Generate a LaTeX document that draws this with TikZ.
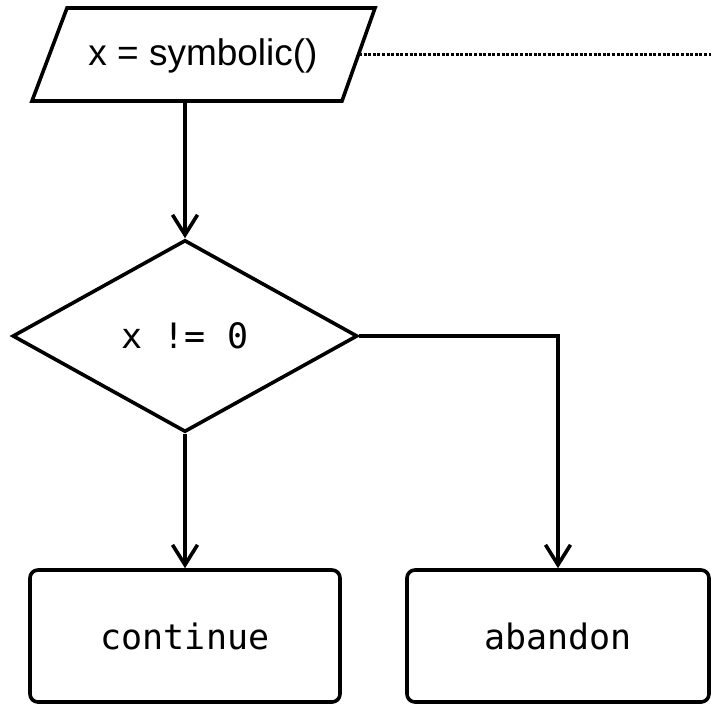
\documentclass[tikz,border=0pt]{standalone}
\usepackage{fontspec}
\setmainfont{Liberation Sans}
\setmonofont{DejaVu Sans Mono}
\usetikzlibrary{shapes.geometric,arrows.meta}

\tikzset{
  outline/.style={draw=black, line width=3.6pt, line join=miter},
  decision/.style={outline, shape=diamond, minimum width=345pt, minimum height=192pt, inner sep=0pt},
  endbox/.style={outline, rectangle, rounded corners=8pt, inner sep=0pt},
  flow/.style={black, line width=3.6pt, -{Straight Barb[length=20pt,width=25pt]}},
  link/.style={black, line width=3pt, dash pattern=on 3pt off 1.6pt},
  label/.style={font=\fontsize{37}{40}\selectfont},
  code/.style={font=\ttfamily\fontsize{35}{40}\selectfont}
}

\begin{document}
\begin{tikzpicture}[x=1pt,y=-1pt]
  \useasboundingbox (0,0) rectangle (711,705);

  % input parallelogram
  \draw[outline] (67,8) -- (375,8) -- (342,101) -- (32,101) -- cycle;
  \node[label, inner sep=0pt] (inp) at (203,56) {x = symbolic()};
  \coordinate (inpS) at (185,101);
  \coordinate (inpE) at (359,54.5);
  \coordinate (linkEnd) at (711,54.5);

  % condition
  \node[decision, code] (dec) at (185,336) {x != 0};

  % outcomes
  \node[endbox, code, minimum width=310pt, minimum height=132pt] (cont) at (185,636) {continue};
  \node[endbox, code, minimum width=302pt, minimum height=132pt] (aban) at (558,636) {abandon};

  % connectors
  \draw[link] (inpE) -- (linkEnd);
  \draw[flow] (inpS) -- (dec.north);
  \draw[flow] (dec.south) -- (cont.north);
  \draw[flow] (dec.east) -| (aban.north);
\end{tikzpicture}
\end{document}
